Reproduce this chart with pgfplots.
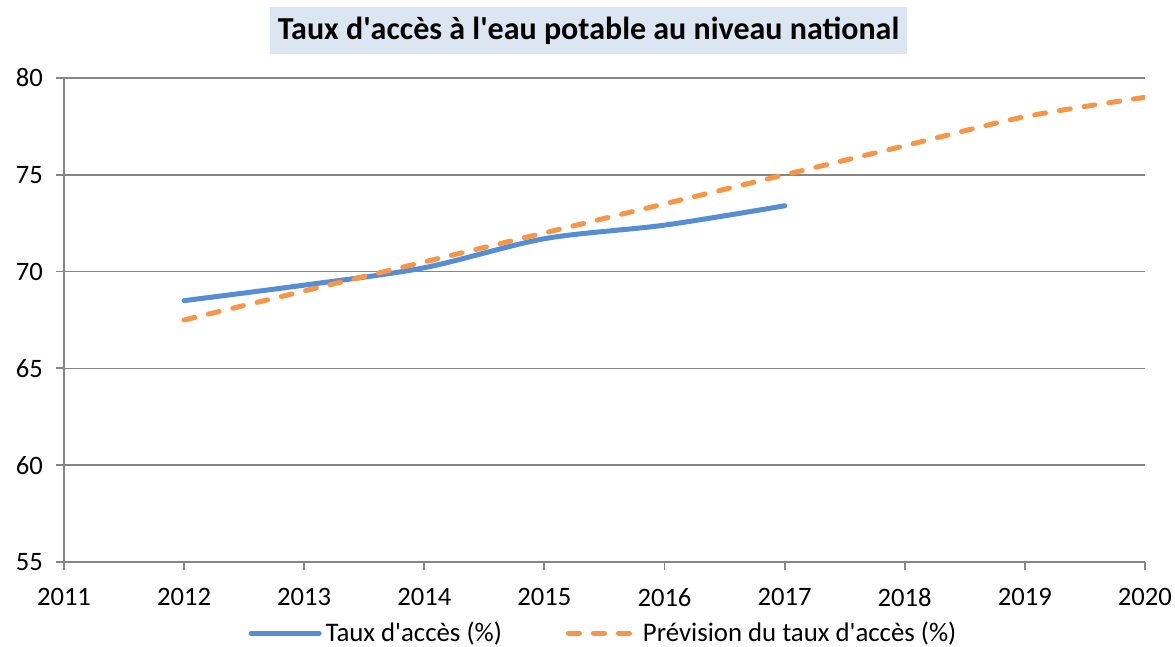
\documentclass[border=0pt]{standalone}
\usepackage{fontspec}
\setmainfont{Carlito}
\usepackage{pgfplots}
\pgfplotsset{compat=1.18}

\definecolor{bleuserie}{RGB}{85,142,213}
\definecolor{orangeserie}{RGB}{247,150,70}
\definecolor{fondtitre}{RGB}{220,230,242}
\definecolor{grille}{RGB}{134,134,134}

\begin{document}
\begin{tikzpicture}
\begin{axis}[
    scale only axis,
    width=540.5pt,
    height=242pt,
    xmin=2011, xmax=2020,
    ymin=55, ymax=80,
    xtick={2011,2012,...,2020},
    ytick={55,60,...,80},
    axis x line*=bottom,
    axis y line*=left,
    axis line style={grille, line width=0.9pt},
    tick style={grille, line width=0.9pt},
    tick align=outside,
    major tick length=4pt,
    ymajorgrids=true,
    major grid style={grille, line width=0.8pt},
    /pgf/number format/assume math mode=true,
    xticklabel style={/pgf/number format/set thousands separator={}, yshift=-5.5pt},
    yticklabel style={xshift=-3pt},
    tick label style={font=\fontsize{13.3}{15}\selectfont},
    legend style={at={(0.5,-0.147)}, anchor=center, draw=none, fill=none,
                  legend columns=2, font=\fontsize{13.4}{15}\selectfont,
                  /tikz/every even column/.append style={column sep=30pt}},
    legend image code/.code={\draw[#1] (0pt,0pt) -- (34pt,0pt);},
]
\coordinate (ll) at (rel axis cs:0,0);

% Taux d'accès observé
\addplot[bleuserie, line width=2.5pt, line cap=round, smooth] coordinates {
    (2012, 68.5)
    (2013, 69.3)
    (2014, 70.2)
    (2015, 71.7)
    (2016, 72.4)
    (2017, 73.4)
};

% Prévision
\addplot[orangeserie, line width=2.5pt, line cap=round, smooth,
         dash pattern=on 5.5pt off 7pt] coordinates {
    (2012, 67.5)
    (2013, 69.0)
    (2014, 70.5)
    (2015, 72.0)
    (2016, 73.5)
    (2017, 75.0)
    (2018, 76.5)
    (2019, 78.0)
    (2020, 79.0)
};

\legend{Taux d\textquotesingle accès (\%), Prévision du taux d\textquotesingle accès (\%)}
\end{axis}

\node[fill=fondtitre, minimum width=318.5pt, minimum height=23.5pt,
      font=\bfseries\fontsize{16}{19}\selectfont]
    at ([shift={(262.25pt,265.75pt)}]ll) {Taux d\textquotesingle accès à l\textquotesingle eau potable au niveau national};

\pgfresetboundingbox
\path ([shift={(-32pt,-42.5pt)}]ll) rectangle ++(587.5pt,323.5pt);
\end{tikzpicture}
\end{document}
